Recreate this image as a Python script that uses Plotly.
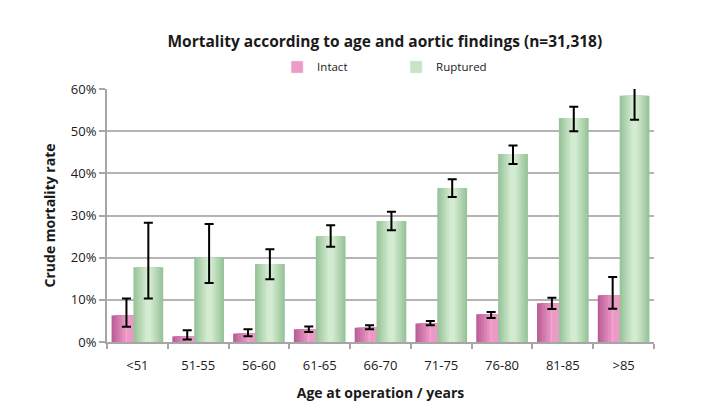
import plotly.graph_objects as go

categories = ["<51", "51-55", "56-60", "61-65", "66-70", "71-75", "76-80", "81-85", ">85"]
intact = [6.3, 1.35, 2.0, 3.0, 3.4, 4.4, 6.6, 9.2, 11.1]
intact_hi = [10.3, 2.8, 3.0, 3.7, 4.0, 5.0, 7.1, 10.5, 15.4]
intact_lo = [3.6, 0.6, 1.35, 2.4, 3.0, 4.0, 5.7, 7.8, 7.9]
ruptured = [17.7, 20.0, 18.5, 25.1, 28.7, 36.5, 44.6, 53.1, 58.4]
ruptured_hi = [28.3, 28.0, 22.0, 27.7, 30.9, 38.6, 46.6, 55.8, 60.7]
ruptured_lo = [10.3, 14.0, 14.9, 22.6, 26.5, 34.4, 42.2, 50.0, 52.7]

FONT = "Open Sans"
TXT = "#1a1a1a"


def lerp(c1, c2, t):
    a = [int(c1[i:i + 2], 16) for i in (1, 3, 5)]
    b = [int(c2[i:i + 2], 16) for i in (1, 3, 5)]
    return "#" + "".join(f"{round(a[i] + (b[i] - a[i]) * t):02x}" for i in range(3))


fig = go.Figure()

BW = 0.49
NL = 7


def add_series(name, vals, hi, lo, center, edge, mid, legend_col, shift=0.0):
    for k in range(NL):
        t = k / (NL - 1)
        w = BW * (1 - 0.8 * t)
        c = center + shift * t
        last = k == NL - 1
        kw = {}
        if last:
            kw["error_y"] = dict(
                type="data", symmetric=False,
                array=[h - v for h, v in zip(hi, vals)],
                arrayminus=[v - l for v, l in zip(vals, lo)],
                color="#000000", thickness=2, width=4.5,
            )
            w = 0.0001 if shift else w
            c = center if shift else c
        fig.add_trace(go.Bar(
            x=categories, y=vals, width=[w] * len(vals), offset=[c - w / 2] * len(vals),
            marker=dict(color=lerp(edge, mid, t), line=dict(width=0)),
            showlegend=False, hoverinfo="skip", cliponaxis=False, name=name, **kw,
        ))
    fig.add_trace(go.Bar(x=[None], y=[None], name=name, marker=dict(color=legend_col), showlegend=True))


add_series("Intact", intact, intact_hi, intact_lo, -0.18, "#bd5f99", "#f4a6cf", "#ee99c6", shift=0.06)
add_series("Ruptured", ruptured, ruptured_hi, ruptured_lo, 0.18, "#98c49a", "#d3ebd0", "#c8e4c4")

fig.update_layout(
    width=706, height=413,
    margin=dict(l=107, r=52, t=89, b=71),
    paper_bgcolor="white", plot_bgcolor="white",
    barmode="overlay",
    font=dict(family=FONT, color=TXT, size=12),
    title=dict(text="<b>Mortality according to age and aortic findings (n=31,318)</b>",
               x=0.508, xref="paper", xanchor="center", y=1 - 42 / 413, yanchor="middle",
               font=dict(size=15.5, family=FONT, color=TXT)),
    legend=dict(orientation="h", x=0.311, xanchor="left", y=1.087, yanchor="middle",
                entrywidth=74, entrywidthmode="pixels", font=dict(size=11.5, family=FONT, color=TXT),
                itemwidth=30, traceorder="normal", bgcolor="rgba(0,0,0,0)"),
    xaxis=dict(
        type="category", categoryorder="array", categoryarray=categories,
        showline=True, linecolor="#a6a6a6", linewidth=2,
        ticks="outside", tickson="boundaries", ticklen=5, tickcolor="#a6a6a6", tickwidth=2,
        showgrid=False, tickfont=dict(size=13, color=TXT), ticklabelstandoff=10,
        title=dict(text="<b>Age at operation / years</b>", font=dict(size=14, color=TXT), standoff=16),
    ),
    yaxis=dict(
        range=[0, 60], dtick=10, ticksuffix="%",
        showline=True, linecolor="#a6a6a6", linewidth=2,
        ticks="outside", ticklen=6, tickcolor="#a6a6a6", tickwidth=2,
        showgrid=True, gridcolor="#b4b4b4", gridwidth=2,
        tickfont=dict(size=13, color=TXT), zeroline=False,
        title=dict(text="<b>Crude mortality rate</b>", font=dict(size=14, color=TXT), standoff=12),
    ),
)

fig.write_html("out.html")
